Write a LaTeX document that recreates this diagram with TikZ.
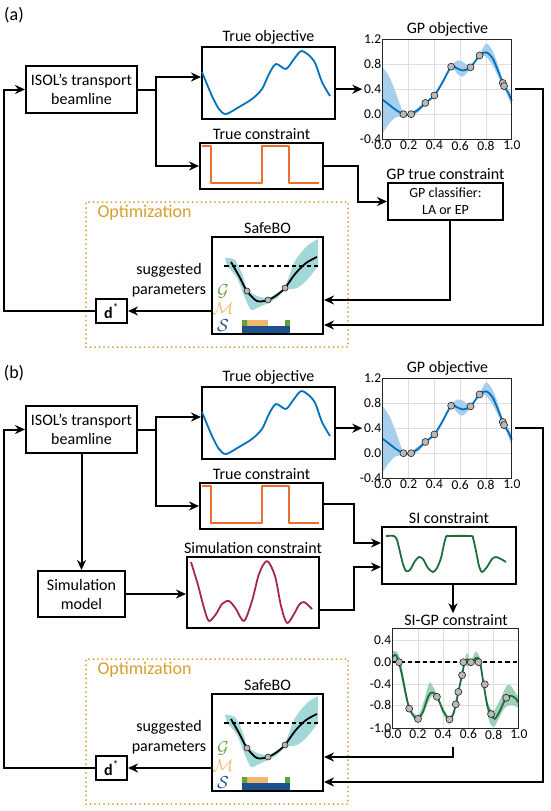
\documentclass[tikz,border=0pt]{standalone}
\usepackage{fontspec}
\setmainfont{Carlito}
\usetikzlibrary{positioning, calc, arrows.meta}

\definecolor{objblue}{RGB}{0,114,189}
\definecolor{conorange}{RGB}{237,110,45}
\definecolor{simred}{RGB}{165,40,75}
\definecolor{sigreen}{RGB}{30,110,60}
\definecolor{gpbandblue}{RGB}{168,206,238}
\definecolor{sibandgreen}{RGB}{160,208,182}
\definecolor{optgold}{RGB}{215,160,45}
\definecolor{safeteal}{RGB}{162,216,216}
\definecolor{setG}{RGB}{100,160,60}
\definecolor{setM}{RGB}{240,185,110}
\definecolor{setS}{RGB}{30,80,140}

\tikzset{
  % boxes and texts
  blockbox/.style  = { draw, line width=2pt, align=center, inner sep=2pt,
                       font=\fontsize{16}{19}\selectfont },
  plotbox/.style   = { draw, line width=2pt, inner sep=0 },
  boxtitle/.style  = { font=\fontsize{16}{19}\selectfont, inner sep=1pt },
  panellabel/.style= { font=\fontsize{18}{21}\selectfont },
  optbox/.style    = { draw=optgold, line width=2pt, dash pattern=on 0pt off 4.5pt,
                       line cap=round, minimum width=262pt, minimum height=145pt },
  optlabel/.style  = { font=\fontsize{18}{21}\selectfont, text=optgold },
  sugtext/.style   = { align=center, font=\fontsize{16}{20}\selectfont },
  sigline/.style   = { line width=1.8pt, line join=round },
  flow/.style      = { line width=2pt, -{Stealth[length=10pt, width=9pt]} },
  limitline/.style = { line width=1.8pt, dash pattern=on 4.5pt off 3pt },
  setletter/.style = { font=\fontsize{16}{16}\selectfont, inner sep=0 },
  % plot parts
  gridline/.style  = { gray!25, line width=0.6pt },
  axframe/.style   = { gray!30!black, line width=0.8pt },
  ticklabel/.style = { font=\fontsize{13.5}{15}\selectfont, inner sep=1.5pt },
  datapt/.style    = { circle, fill=gray!55, draw=gray!25!black, line width=0.6pt,
                       minimum size=7pt, inner sep=0 },
  gpframe/.style   = { inner sep=0, minimum width=129pt, minimum height=100pt },
  sigpframe/.style = { inner sep=0, minimum width=126pt, minimum height=100pt },
  objbox/.style    = { plotbox, minimum width=133pt, minimum height=72pt },
  conbox/.style    = { plotbox, minimum width=123pt, minimum height=46pt },
  simbox/.style    = { plotbox, minimum width=132pt, minimum height=71pt },
  sibox/.style     = { plotbox, minimum width=134pt, minimum height=57pt },
  safebox/.style   = { plotbox, minimum width=111pt, minimum height=97pt }
}

% signal sketches, drawn from the north west corner of box #1
\newcommand{\objsketch}[1]{%
  \draw[sigline, objblue, shift={(#1.north west)}]
    plot[smooth] coordinates {(1,26) (11,50) (18,63) (25,68) (38,61) (51,53)
      (61,43) (68,28) (75,18) (85,23) (93,13) (101,5) (113,15) (121,36) (129,50)};}
\newcommand{\consketch}[1]{%
  \draw[sigline, conorange, shift={(#1.north west)}]
    (3,4) -- (12,4) -- (12,41) -- (63,41) -- (63,4) -- (90,4) -- (90,41) -- (120,41);}
\newcommand{\simsketch}[1]{%
  \draw[sigline, simred, shift={(#1.north west)}]
    plot[smooth] coordinates {(5,6) (12,29) (18,52) (23,65) (30,58) (36,48) (43,45)
      (50,53) (58,65) (66,45) (73,18) (81,5) (89,20) (95,50) (101,67) (108,58)
      (113,49) (118,46) (126,53)};}
\newcommand{\sisketch}[1]{%
  \draw[sigline, sigreen, shift={(#1.north west)}]
    plot[smooth, tension=0.45] coordinates {(5,10) (13,10) (16,14) (19,26) (22,38)
      (25,45) (29,44) (34,35) (38,31) (42,33) (47,42) (52,46) (56,42) (60,32)
      (63,18) (65,11) (67,10) (90,10) (92,12) (95,25) (98,40) (101,46) (106,41)
      (111,33) (115,31) (120,33) (125,36)};}
\newcommand{\safesketch}[1]{%
  \begin{scope}[shift={(#1.north west)}]
    \fill[safeteal] plot[smooth] coordinates {(14,22) (24,24) (32,40) (36,53)
        (46,60) (57,62) (66,57) (74,50) (84,25) (96,10) (107,3)}
      -- plot[smooth] coordinates {(107,30) (96,44) (86,52) (74,54) (66,62)
        (57,67) (46,72) (40,74) (34,62) (26,42) (16,30)} -- cycle;
    \draw[limitline] (13,30) -- (107,30);
    \draw[sigline] plot[smooth] coordinates {(20,26) (28,40) (36,55) (46,65)
      (57,64) (66,59) (74,52) (84,38) (95,27) (106,21)};
    \foreach \p in {(36,55),(57,64),(74,52)}
      \node[datapt, minimum size=6pt] at \p {};
    \fill[setM] (36,84) rectangle (57,90);
    \fill[setG] (31,84) rectangle (36,90) (74,84) rectangle (79,90);
    \fill[setS] (31,90) rectangle (79,97);
    \node[setletter, text=setG] at (12,55) {$\mathcal{G}$};
    \node[setletter, text=setM] at (12,73) {$\mathcal{M}$};
    \node[setletter, text=setS] at (12,90) {$\mathcal{S}$};
  \end{scope}}

% GP objective plot in the place of frame node #1
\newcommand{\gpobjplot}[1]{%
  \begin{scope}[shift={(#1.south west)}, yshift=25pt, x=129pt, y=62.5pt]
    \foreach \gx in {0.2,0.4,0.6,0.8} \draw[gridline] (\gx,-0.4) -- (\gx,1.2);
    \foreach \gy in {0,0.4,0.8} \draw[gridline] (0,\gy) -- (1,\gy);
    \fill[gpbandblue] plot[smooth] coordinates {(0,0.75) (0.05,0.6) (0.1,0.35)
        (0.16,0.03) (0.22,0.03) (0.28,0.12) (0.33,0.2) (0.4,0.32) (0.46,0.53)
        (0.53,0.78) (0.58,0.86) (0.62,0.84) (0.68,0.77) (0.75,0.96) (0.8,1.13)
        (0.85,1.02) (0.9,0.75) (0.93,0.52) (0.94,0.47) (0.97,0.4) (1,0.3)}
      -- plot[smooth] coordinates {(1,0.12) (0.97,0.28) (0.94,0.43) (0.93,0.48)
        (0.9,0.58) (0.85,0.78) (0.8,0.92) (0.75,0.92) (0.68,0.73) (0.62,0.6)
        (0.58,0.64) (0.53,0.74) (0.46,0.47) (0.4,0.28) (0.33,0.16) (0.28,0.04)
        (0.22,-0.03) (0.16,-0.03) (0.1,-0.05) (0.05,-0.15) (0,-0.3)} -- cycle;
    \draw[sigline, objblue] plot[smooth] coordinates {(0,0.23) (0.05,0.15) (0.1,0.07)
      (0.16,0.0) (0.2,-0.01) (0.22,0.0) (0.28,0.08) (0.33,0.18) (0.4,0.30)
      (0.46,0.5) (0.53,0.76) (0.57,0.74) (0.62,0.70) (0.68,0.75) (0.75,0.94)
      (0.8,0.99) (0.85,0.9) (0.9,0.66) (0.93,0.50) (0.94,0.45) (0.97,0.35) (1,0.22)};
    \foreach \px/\py in {0.16/0.0, 0.22/0.0, 0.33/0.18, 0.40/0.30, 0.53/0.76,
                         0.68/0.75, 0.75/0.94, 0.93/0.50, 0.94/0.45}
      \node[datapt] at (\px,\py) {};
    \draw[axframe] (0,-0.4) rectangle (1,1.2);
    \foreach \t in {0.0,0.2,0.4,0.6,0.8,1.0}
      \node[ticklabel, anchor=north] at (\t,-0.4) {\t};
    \foreach \v/\t in {-0.4/-0.4, 0/0.0, 0.8/0.8, 1.2/1.2}
      \node[ticklabel, anchor=east] at (0,\v) {\t};
    \node[ticklabel, anchor=east] (#1y4) at (0,0.4) {0.4};
  \end{scope}}

% SI-GP constraint plot in the place of frame node #1
\newcommand{\sigpplot}[1]{%
  \begin{scope}[shift={(#1.south west)}, yshift=66pt, x=126pt, y=54pt]
    \foreach \gx in {0.2,0.4,0.6,0.8} \draw[gridline] (\gx,-1.22) -- (\gx,0.63);
    \foreach \gy in {-0.8,-0.4,0,0.4} \draw[gridline] (0,\gy) -- (1,\gy);
    \begin{scope}
      \clip (0,-1.22) rectangle (1,0.63);
      \fill[sibandgreen] plot[smooth] coordinates {(0,0.2) (0.03,0.2) (0.06,0.05)
          (0.1,-0.45) (0.13,-0.82) (0.2,-0.98) (0.25,-0.7) (0.29,-0.38) (0.33,-0.5)
          (0.4,-0.85) (0.45,-1.02) (0.5,-0.76) (0.55,-0.22) (0.57,0.02) (0.59,0.17)
          (0.62,0.03) (0.66,0.2) (0.7,0.02) (0.72,-0.38) (0.76,-0.78) (0.8,-0.9)
          (0.85,-0.7) (0.9,-0.45) (0.93,-0.42) (0.97,-0.55) (1,-0.65)}
        -- plot[smooth] coordinates {(1,-0.85) (0.96,-0.8) (0.92,-0.8) (0.88,-0.87)
          (0.84,-1.05) (0.8,-1.2) (0.76,-1.05) (0.72,-0.42) (0.69,-0.05)
          (0.66,-0.02) (0.63,-0.03) (0.59,-0.08) (0.57,-0.03) (0.55,-0.25)
          (0.5,-0.8) (0.45,-1.1) (0.4,-0.97) (0.35,-0.66) (0.31,-0.63) (0.27,-0.8)
          (0.2,-1.1) (0.13,-0.88) (0.1,-0.65) (0.06,-0.2) (0.04,-0.03) (0,0.0)} -- cycle;
      \draw[sigline, sigreen] plot[smooth] coordinates {(0,0.1) (0.02,0.14) (0.04,0.06)
        (0.07,-0.2) (0.1,-0.55) (0.13,-0.85) (0.17,-1.01) (0.2,-1.05) (0.24,-0.92)
        (0.28,-0.64) (0.31,-0.56) (0.35,-0.63) (0.4,-0.9) (0.45,-1.06) (0.48,-0.96)
        (0.5,-0.78) (0.52,-0.55) (0.55,-0.23) (0.57,0.0) (0.59,0.05) (0.63,0.0)
        (0.66,0.08) (0.69,0.02) (0.72,-0.4) (0.75,-0.8) (0.78,-0.97) (0.81,-1.05)
        (0.85,-0.9) (0.89,-0.7) (0.93,-0.62) (0.97,-0.66) (1,-0.75)};
    \end{scope}
    \draw[limitline] (0,0) -- (1,0);
    \foreach \px/\py in {0.05/0.0, 0.13/-0.86, 0.2/-1.05, 0.35/-0.64, 0.45/-1.06,
                         0.5/-0.78, 0.52/-0.55, 0.55/-0.24, 0.56/0.0, 0.62/0.0,
                         0.68/0.0, 0.73/-0.41, 0.78/-0.96, 0.9/-0.66}
      \node[datapt] at (\px,\py) {};
    \draw[axframe] (0,-1.22) rectangle (1,0.63);
    \foreach \t in {0.0,0.2,0.4,0.6,0.8,1.0}
      \node[ticklabel, anchor=north] at (\t,-1.22) {\t};
    \foreach \v/\t in {-1.22/-1.0, -0.8/-0.8, -0.4/-0.4, 0/0.0, 0.4/0.4}
      \node[ticklabel, anchor=east] at (0,\v) {\t};
  \end{scope}}

\begin{document}
\begin{tikzpicture}[x=1pt, y=-1pt]
  \useasboundingbox (0,0) rectangle (550,811);

  % ===== (a) =====
  \node[panellabel] (labA) at (14,15) {(a)};

  \node[blockbox, minimum width=111pt, minimum height=47pt] (isolA) at (81.5,89.5) {ISOL’s transport\\beamline};
  \node[objbox] (objA) at (268.5,83) {};
  \objsketch{objA}
  \node[boxtitle, above=1pt of objA] {True objective};
  \node[conbox] (conA) at (261.5,166) {};
  \consketch{conA}
  \node[boxtitle, above=1pt of conA] {True constraint};

  \node[gpframe] (gpA) at (447.5,89) {};
  \gpobjplot{gpA}
  \node[boxtitle, above=1pt of gpA] {GP objective};

  \node[blockbox, font=\fontsize{14}{17}\selectfont, minimum width=115pt, minimum height=37pt] (gpconA) at (445.5,201.5) {GP classifier:\\LA or EP};
  \node[boxtitle, above=1pt of gpconA] {GP true constraint};

  \node[optbox] (optA) at (217,274.5) {};
  \node[optlabel, anchor=west] at (94,213) {Optimization};
  \node[safebox] (safeA) at (267.5,285.5) {};
  \safesketch{safeA}
  \node[boxtitle, above=1pt of safeA] {SafeBO};
  \node[blockbox, minimum width=31pt, minimum height=24pt] (dA) at (111.5,311) {\textbf{d}\textsuperscript{*}};
  \node[sugtext] (sugA) at (169,280) {suggested\\parameters};

  \draw[flow] (isolA.east) -- ++(18,0) |- ([yshift=6pt]objA.west);
  \draw[flow] (isolA.east) -- ++(18,0) |- (conA.west);
  \draw[flow] (objA.east |- gpAy4) -- (gpAy4.west);
  \draw[flow] (conA.east) -- ++(34,0) |- (gpconA.west);
  \draw[flow] ([xshift=4pt]gpconA.south) |- ([yshift=-14.5pt]safeA.east);
  \draw[flow] ([xshift=3pt]gpA.east |- gpAy4) -- ++(28,0) |- ([yshift=-39.5pt]safeA.east);
  \draw[flow] (safeA.west |- dA.east) -- (dA.east);
  \draw[flow] (dA.west) -- ++(-91,0) |- (isolA.west);

  % ===== (b) =====
  \node[panellabel] (labB) at (14,373) {(b)};

  \node[blockbox, minimum width=111pt, minimum height=47pt] (isolB) at (81.5,429.5) {ISOL’s transport\\beamline};
  \node[objbox] (objB) at (268.5,423) {};
  \objsketch{objB}
  \node[boxtitle, above=1pt of objB] {True objective};
  \node[conbox] (conB) at (261.5,506) {};
  \consketch{conB}
  \node[boxtitle, above=1pt of conB] {True constraint};

  \node[gpframe] (gpB) at (447.5,428) {};
  \gpobjplot{gpB}
  \node[boxtitle, above=1pt of gpB] {GP objective};

  \node[blockbox, minimum width=87pt, minimum height=46pt] (simmodB) at (81.5,594) {Simulation\\model};
  \node[simbox] (simconB) at (253,592.5) {};
  \simsketch{simconB}
  \node[boxtitle, above=1pt of simconB] {Simulation constraint};
  \node[sibox] (siconB) at (449,555.5) {};
  \sisketch{siconB}
  \node[boxtitle, above=1pt of siconB] {SI constraint};

  \node[sigpframe] (sigpB) at (456,678) {};
  \sigpplot{sigpB}
  \node[boxtitle, above=1pt of sigpB] (sigpBT) {SI-GP constraint};

  \node[optbox] (optB) at (217,731.5) {};
  \node[optlabel, anchor=west] at (94,670) {Optimization};
  \node[safebox] (safeB) at (267.5,742.5) {};
  \safesketch{safeB}
  \node[boxtitle, above=1pt of safeB] {SafeBO};
  \node[blockbox, minimum width=31pt, minimum height=24pt] (dB) at (111.5,768) {\textbf{d}\textsuperscript{*}};
  \node[sugtext] (sugB) at (169,737) {suggested\\parameters};

  \draw[flow] (isolB.east) -- ++(18,0) |- ([yshift=6pt]objB.west);
  \draw[flow] (isolB.east) -- ++(18,0) |- (conB.west);
  \draw[flow] (isolB.south) -- (simmodB.north);
  \draw[flow] (simmodB.east) -- (simmodB.east -| simconB.west);
  \draw[flow] (objB.east |- gpBy4) -- (gpBy4.west);
  \draw[flow] ([yshift=2pt]conB.east) -- ++(30,0) |- ([yshift=12.5pt]siconB.west);
  \draw[flow] ([yshift=-17.5pt]simconB.east) -- ++(34,0) |- ([yshift=-11.5pt]siconB.west);
  \draw[flow] ([xshift=4pt]siconB.south) -- ([xshift=4pt]siconB.south |- sigpBT.north);
  \draw[flow] ([shift={(-3pt,-19pt)}]sigpB.south) |- ([yshift=-14.5pt]safeB.east);
  \draw[flow] ([xshift=3pt]gpB.east |- gpBy4) -- ++(28,0) |- ([yshift=-39.5pt]safeB.east);
  \draw[flow] (safeB.west |- dB.east) -- (dB.east);
  \draw[flow] (dB.west) -- ++(-91,0) |- (isolB.west);

\end{tikzpicture}
\end{document}
